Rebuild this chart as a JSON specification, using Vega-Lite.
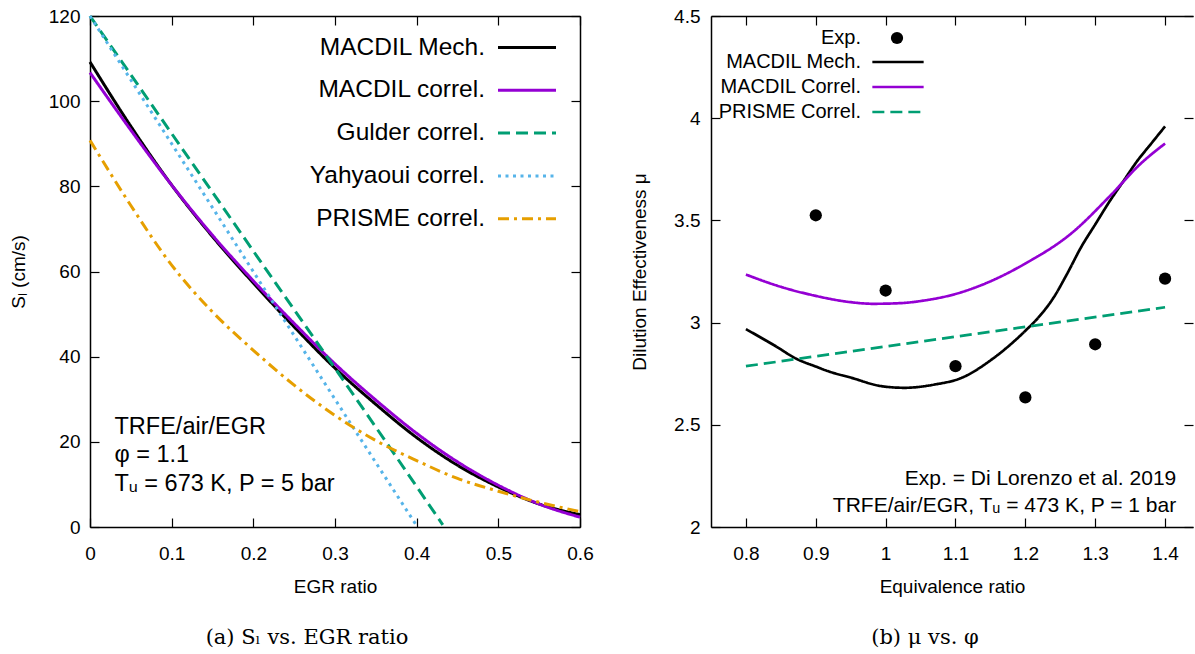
{
  "$schema": "https://vega.github.io/schema/vega-lite/v6.json",
  "background": "white",
  "padding": {"left": 9, "top": 7, "right": 0, "bottom": 0},
  "autosize": {"type": "pad"},
  "datasets": {
    "sl": [
      {"model": "MACDIL Mech.", "egr": 0, "sl": 109.2},
      {"model": "MACDIL Mech.", "egr": 0.05, "sl": 94.1},
      {"model": "MACDIL Mech.", "egr": 0.1, "sl": 80.3},
      {"model": "MACDIL Mech.", "egr": 0.15, "sl": 68.2},
      {"model": "MACDIL Mech.", "egr": 0.2, "sl": 57.3},
      {"model": "MACDIL Mech.", "egr": 0.25, "sl": 47.0},
      {"model": "MACDIL Mech.", "egr": 0.3, "sl": 37.3},
      {"model": "MACDIL Mech.", "egr": 0.35, "sl": 28.8},
      {"model": "MACDIL Mech.", "egr": 0.4, "sl": 21.0},
      {"model": "MACDIL Mech.", "egr": 0.45, "sl": 14.5},
      {"model": "MACDIL Mech.", "egr": 0.5, "sl": 9.4},
      {"model": "MACDIL Mech.", "egr": 0.55, "sl": 5.4},
      {"model": "MACDIL Mech.", "egr": 0.6, "sl": 2.9},
      {"model": "MACDIL correl.", "egr": 0, "sl": 106.7},
      {"model": "MACDIL correl.", "egr": 0.05, "sl": 93.2},
      {"model": "MACDIL correl.", "egr": 0.1, "sl": 80.3},
      {"model": "MACDIL correl.", "egr": 0.15, "sl": 68.5},
      {"model": "MACDIL correl.", "egr": 0.2, "sl": 57.8},
      {"model": "MACDIL correl.", "egr": 0.25, "sl": 47.8},
      {"model": "MACDIL correl.", "egr": 0.3, "sl": 38.3},
      {"model": "MACDIL correl.", "egr": 0.35, "sl": 29.8},
      {"model": "MACDIL correl.", "egr": 0.4, "sl": 22.0},
      {"model": "MACDIL correl.", "egr": 0.45, "sl": 15.3},
      {"model": "MACDIL correl.", "egr": 0.5, "sl": 9.8},
      {"model": "MACDIL correl.", "egr": 0.55, "sl": 5.4},
      {"model": "MACDIL correl.", "egr": 0.6, "sl": 2.3},
      {"model": "Gulder correl.", "egr": 0, "sl": 120},
      {"model": "Gulder correl.", "egr": 0.2, "sl": 64.8},
      {"model": "Gulder correl.", "egr": 0.376, "sl": 16.2},
      {"model": "Gulder correl.", "egr": 0.432, "sl": 0.5},
      {"model": "Yahyaoui correl.", "egr": 0, "sl": 120},
      {"model": "Yahyaoui correl.", "egr": 0.1, "sl": 90},
      {"model": "Yahyaoui correl.", "egr": 0.345, "sl": 16.6},
      {"model": "Yahyaoui correl.", "egr": 0.401, "sl": 0},
      {"model": "PRISME correl.", "egr": 0, "sl": 90.8},
      {"model": "PRISME correl.", "egr": 0.05, "sl": 75.5},
      {"model": "PRISME correl.", "egr": 0.1, "sl": 61.5},
      {"model": "PRISME correl.", "egr": 0.15, "sl": 50.5},
      {"model": "PRISME correl.", "egr": 0.2, "sl": 41.5},
      {"model": "PRISME correl.", "egr": 0.25, "sl": 33.3},
      {"model": "PRISME correl.", "egr": 0.3, "sl": 26.2},
      {"model": "PRISME correl.", "egr": 0.35, "sl": 20.3},
      {"model": "PRISME correl.", "egr": 0.4, "sl": 15.6},
      {"model": "PRISME correl.", "egr": 0.45, "sl": 11.4},
      {"model": "PRISME correl.", "egr": 0.5, "sl": 8.4},
      {"model": "PRISME correl.", "egr": 0.55, "sl": 5.8},
      {"model": "PRISME correl.", "egr": 0.6, "sl": 3.6}
    ],
    "mu": [
      {"model": "MACDIL Mech.", "phi": 0.8, "mu": 2.968},
      {"model": "MACDIL Mech.", "phi": 0.84, "mu": 2.89},
      {"model": "MACDIL Mech.", "phi": 0.874, "mu": 2.82},
      {"model": "MACDIL Mech.", "phi": 0.9, "mu": 2.785},
      {"model": "MACDIL Mech.", "phi": 0.917, "mu": 2.763},
      {"model": "MACDIL Mech.", "phi": 0.951, "mu": 2.73},
      {"model": "MACDIL Mech.", "phi": 0.994, "mu": 2.689},
      {"model": "MACDIL Mech.", "phi": 1.027, "mu": 2.681},
      {"model": "MACDIL Mech.", "phi": 1.07, "mu": 2.697},
      {"model": "MACDIL Mech.", "phi": 1.109, "mu": 2.73},
      {"model": "MACDIL Mech.", "phi": 1.152, "mu": 2.82},
      {"model": "MACDIL Mech.", "phi": 1.2, "mu": 2.96},
      {"model": "MACDIL Mech.", "phi": 1.22, "mu": 3.03},
      {"model": "MACDIL Mech.", "phi": 1.24, "mu": 3.12},
      {"model": "MACDIL Mech.", "phi": 1.26, "mu": 3.24},
      {"model": "MACDIL Mech.", "phi": 1.28, "mu": 3.37},
      {"model": "MACDIL Mech.", "phi": 1.3, "mu": 3.48},
      {"model": "MACDIL Mech.", "phi": 1.32, "mu": 3.59},
      {"model": "MACDIL Mech.", "phi": 1.34, "mu": 3.69},
      {"model": "MACDIL Mech.", "phi": 1.36, "mu": 3.79},
      {"model": "MACDIL Mech.", "phi": 1.38, "mu": 3.875},
      {"model": "MACDIL Mech.", "phi": 1.4, "mu": 3.96},
      {"model": "MACDIL Correl.", "phi": 0.8, "mu": 3.235},
      {"model": "MACDIL Correl.", "phi": 0.85, "mu": 3.175},
      {"model": "MACDIL Correl.", "phi": 0.897, "mu": 3.133},
      {"model": "MACDIL Correl.", "phi": 0.95, "mu": 3.1},
      {"model": "MACDIL Correl.", "phi": 0.982, "mu": 3.092},
      {"model": "MACDIL Correl.", "phi": 1.02, "mu": 3.095},
      {"model": "MACDIL Correl.", "phi": 1.055, "mu": 3.108},
      {"model": "MACDIL Correl.", "phi": 1.1, "mu": 3.14},
      {"model": "MACDIL Correl.", "phi": 1.136, "mu": 3.182},
      {"model": "MACDIL Correl.", "phi": 1.2, "mu": 3.289},
      {"model": "MACDIL Correl.", "phi": 1.266, "mu": 3.437},
      {"model": "MACDIL Correl.", "phi": 1.323, "mu": 3.626},
      {"model": "MACDIL Correl.", "phi": 1.364, "mu": 3.774},
      {"model": "MACDIL Correl.", "phi": 1.4, "mu": 3.876},
      {"model": "PRISME Correl.", "phi": 0.8, "mu": 2.787},
      {"model": "PRISME Correl.", "phi": 1.4, "mu": 3.075}
    ],
    "exp": [
      {"source": "Exp.", "phi": 0.9, "mu": 3.525},
      {"source": "Exp.", "phi": 1.0, "mu": 3.157},
      {"source": "Exp.", "phi": 1.1, "mu": 2.787},
      {"source": "Exp.", "phi": 1.2, "mu": 2.634},
      {"source": "Exp.", "phi": 1.3, "mu": 2.894},
      {"source": "Exp.", "phi": 1.4, "mu": 3.215}
    ]
  },
  "hconcat": [
    {
      "width": 490,
      "height": 511,
      "title": {"text": "(a) Sₗ vs. EGR ratio", "orient": "bottom", "anchor": "middle", "frame": "group", "dx": -28, "offset": 30, "font": "DejaVu Serif", "fontSize": 21, "fontWeight": "normal", "color": "#000"},
      "layer": [
        {
          "data": {"name": "sl"},
          "mark": {"type": "line", "strokeWidth": 3, "interpolate": "monotone"},
          "encoding": {
            "x": {"field": "egr", "type": "quantitative", "scale": {"domain": [0, 0.6], "nice": false, "zero": false},
                  "axis": {"values": [0, 0.1, 0.2, 0.3, 0.4, 0.5, 0.6], "format": "~g", "title": "EGR ratio", "titleY": 59.5, "titleBaseline": "middle", "labelPadding": 26}},
            "y": {"field": "sl", "type": "quantitative", "scale": {"domain": [0, 120], "nice": false},
                  "axis": {"values": [0, 20, 40, 60, 80, 100, 120], "title": "Sₗ (cm/s)", "titleX": -62, "labelPadding": 19}},
            "color": {"field": "model", "type": "nominal",
                      "scale": {"domain": ["MACDIL Mech.", "MACDIL correl.", "Gulder correl.", "Yahyaoui correl.", "PRISME correl."],
                                "range": ["#000000", "#9400d3", "#009e73", "#56b4e9", "#e69f00"]},
                      "legend": {"orient": "none", "legendX": 406.5, "legendY": 1, "title": null, "labelAlign": "right", "labelOffset": -72.5, "labelFontSize": 24.5, "labelLimit": 400, "symbolSize": 3364, "symbolStrokeWidth": 3, "symbolType": "stroke", "rowPadding": 0.8, "padding": 0}},
            "strokeDash": {"field": "model", "type": "nominal",
                      "scale": {"domain": ["MACDIL Mech.", "MACDIL correl.", "Gulder correl.", "Yahyaoui correl.", "PRISME correl."],
                                "range": [[1, 0], [1, 0], [12, 6], [3, 4.5], [11, 5, 3, 5]]},
                      "legend": {"orient": "none", "legendX": 406.5, "legendY": 1, "title": null, "labelAlign": "right", "labelOffset": -72.5, "labelFontSize": 24.5, "labelLimit": 400, "symbolSize": 3364, "symbolStrokeWidth": 3, "symbolType": "stroke", "rowPadding": 0.8, "padding": 0}}
          }
        },
        {
          "data": {"values": [{}]},
          "mark": {"type": "text", "align": "left", "baseline": "alphabetic", "fontSize": 23.5, "lineHeight": 28.7, "font": "Liberation Sans", "color": "#000",
                   "text": ["TRFE/air/EGR", "φ = 1.1", "Tᵤ = 673 K, P = 5 bar"]},
          "encoding": {
            "x": {"datum": 0.03, "type": "quantitative", "scale": {"domain": [0, 0.6], "nice": false, "zero": false}, "axis": null},
            "y": {"datum": 21.9, "type": "quantitative", "scale": {"domain": [0, 120], "nice": false}, "axis": null}
          }
        },
        {
          "data": {"name": "sl"},
          "mark": {"type": "point", "opacity": 0},
          "encoding": {
            "x": {"field": "egr", "type": "quantitative", "scale": {"domain": [0, 0.6], "nice": false, "zero": false},
                  "axis": {"orient": "top", "values": [0, 0.1, 0.2, 0.3, 0.4, 0.5, 0.6], "labels": false, "title": null}},
            "y": {"field": "sl", "type": "quantitative", "scale": {"domain": [0, 120], "nice": false},
                  "axis": {"orient": "right", "values": [0, 20, 40, 60, 80, 100, 120], "labels": false, "title": null}}
          }
        }
      ],
      "resolve": {"axis": {"x": "independent", "y": "independent"}}
    },
    {
      "width": 482,
      "height": 511,
      "title": {"text": "(b) μ vs. φ", "orient": "bottom", "anchor": "middle", "frame": "group", "dx": -27, "offset": 30, "font": "DejaVu Serif", "fontSize": 21, "fontWeight": "normal", "color": "#000"},
      "layer": [
        {
          "data": {"name": "mu"},
          "mark": {"type": "line", "strokeWidth": 2.7, "interpolate": "monotone"},
          "encoding": {
            "x": {"field": "phi", "type": "quantitative", "scale": {"domain": [0.75, 1.44], "nice": false, "zero": false},
                  "axis": {"values": [0.8, 0.9, 1, 1.1, 1.2, 1.3, 1.4], "format": "~g", "title": "Equivalence ratio", "titleY": 59.5, "titleBaseline": "middle", "labelPadding": 26}},
            "y": {"field": "mu", "type": "quantitative", "scale": {"domain": [2, 4.5], "nice": false, "zero": false},
                  "axis": {"values": [2, 2.5, 3, 3.5, 4, 4.5], "format": "~g", "title": "Dilution Effectiveness μ", "titleX": -62, "labelPadding": 20}},
            "color": {"field": "model", "type": "nominal",
                      "scale": {"domain": ["MACDIL Mech.", "MACDIL Correl.", "PRISME Correl."], "range": ["#000000", "#9400d3", "#009e73"]},
                      "legend": {"orient": "none", "legendX": 176, "legendY": 35, "title": null, "labelAlign": "right", "labelOffset": -48, "labelFontSize": 20, "labelLimit": 400, "symbolSize": 361, "symbolStrokeWidth": 2.7, "symbolType": "M-2.7,0H2.7", "rowPadding": 4, "padding": 0}},
            "strokeDash": {"field": "model", "type": "nominal",
                      "scale": {"domain": ["MACDIL Mech.", "MACDIL Correl.", "PRISME Correl."], "range": [[1, 0], [1, 0], [12, 6]]},
                      "legend": {"orient": "none", "legendX": 176, "legendY": 35, "title": null, "labelAlign": "right", "labelOffset": -48, "labelFontSize": 20, "labelLimit": 400, "symbolSize": 361, "symbolStrokeWidth": 2.7, "symbolType": "M-2.7,0H2.7", "rowPadding": 4, "padding": 0}}
          }
        },
        {
          "data": {"name": "exp"},
          "mark": {"type": "point", "filled": true, "size": 150, "color": "#000", "opacity": 1},
          "encoding": {
            "x": {"field": "phi", "type": "quantitative", "scale": {"domain": [0.75, 1.44], "nice": false, "zero": false}, "axis": null},
            "y": {"field": "mu", "type": "quantitative", "scale": {"domain": [2, 4.5], "nice": false, "zero": false}, "axis": null},
            "shape": {"field": "source", "type": "nominal", "scale": {"domain": ["Exp."], "range": ["circle"]},
                      "legend": {"orient": "none", "legendX": 176, "legendY": 12, "title": null, "labelAlign": "right", "labelOffset": -46, "labelFontSize": 20, "symbolSize": 150, "symbolFillColor": "#000", "symbolStrokeColor": "#000", "symbolStrokeWidth": 0, "symbolOpacity": 1, "padding": 0}}
          }
        },
        {
          "data": {"values": [{}]},
          "mark": {"type": "text", "align": "right", "baseline": "alphabetic", "fontSize": 21, "lineHeight": 26.5, "font": "Liberation Sans", "color": "#000",
                   "text": ["Exp. = Di Lorenzo et al. 2019", "TRFE/air/EGR, Tᵤ = 473 K, P = 1 bar"]},
          "encoding": {
            "x": {"datum": 1.416, "type": "quantitative", "scale": {"domain": [0.75, 1.44], "nice": false, "zero": false}, "axis": null},
            "y": {"datum": 2.204, "type": "quantitative", "scale": {"domain": [2, 4.5], "nice": false, "zero": false}, "axis": null}
          }
        },
        {
          "data": {"name": "mu"},
          "mark": {"type": "point", "opacity": 0},
          "encoding": {
            "x": {"field": "phi", "type": "quantitative", "scale": {"domain": [0.75, 1.44], "nice": false, "zero": false},
                  "axis": {"orient": "top", "values": [0.8, 0.9, 1, 1.1, 1.2, 1.3, 1.4], "labels": false, "title": null}},
            "y": {"field": "mu", "type": "quantitative", "scale": {"domain": [2, 4.5], "nice": false, "zero": false},
                  "axis": {"orient": "right", "values": [2, 2.5, 3, 3.5, 4, 4.5], "labels": false, "title": null, "domain": false}}
          }
        }
      ],
      "resolve": {"axis": {"x": "independent", "y": "independent"}}
    }
  ],
  "spacing": 131,
  "bounds": "flush",
  "resolve": {
    "scale": {"x": "independent", "y": "independent", "color": "independent", "strokeDash": "independent", "shape": "independent"},
    "legend": {"color": "independent", "strokeDash": "independent", "shape": "independent"}
  },
  "config": {
    "view": {"stroke": null},
    "font": "Liberation Sans",
    "axis": {
      "grid": false,
      "domainColor": "#000", "domainWidth": 1.5,
      "tickColor": "#000", "tickWidth": 1.2, "tickSize": -9,
      "labelFont": "Liberation Sans", "labelFontSize": 19, "labelColor": "#000", "labelFlush": false, "labelOverlap": false,
      "titleFont": "Liberation Sans", "titleFontSize": 19, "titleFontWeight": "normal", "titleColor": "#000"
    },
    "legend": {"labelFont": "Liberation Sans", "labelColor": "#000", "padding": 0}
  }
}
